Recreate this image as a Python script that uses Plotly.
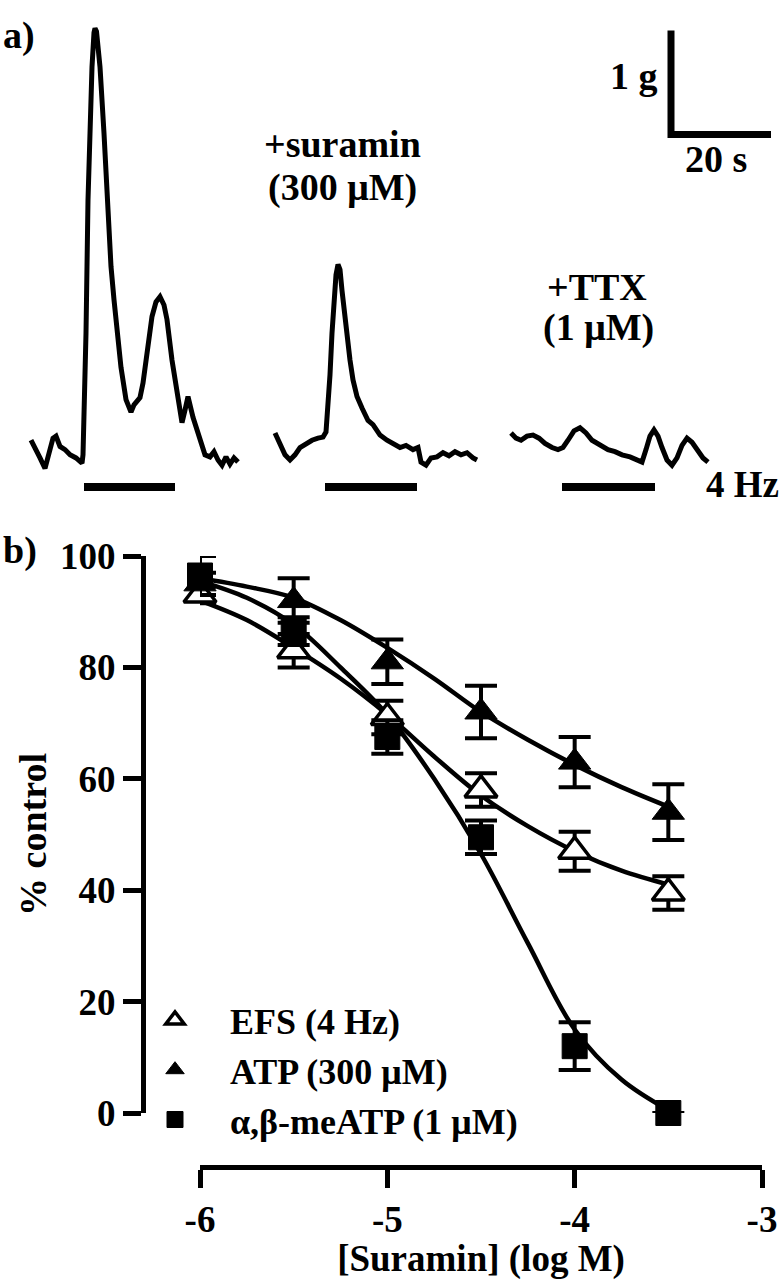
import plotly.graph_objects as go

W, H = 781, 1280
FONT = "Liberation Serif"
BLACK = "#000000"

# ---------------- panel a : isometric tension recordings ----------------
# time (s) and tension relative to baseline (g)
rec_control_t = [0.0, 0.8, 1.8, 2.8, 3.6, 4.4, 5.0, 5.8, 6.8, 7.8, 9.0, 10.2, 10.4, 10.7, 11.0,
                 11.4, 11.8, 12.2, 12.6, 12.8, 13.1, 13.4, 13.8, 14.6, 15.2, 16.0, 16.6, 17.2,
                 18.0, 19.0, 19.6, 20.0, 20.6, 21.2, 21.8, 22.4, 23.2, 24.2, 25.0, 25.8, 26.6,
                 27.2, 28.2, 29.2, 30.2, 30.8, 31.4, 32.4, 33.8, 34.8, 35.8, 36.6, 37.4, 38.2,
                 39.0, 39.8, 40.6, 41.4]
rec_control_g = [0.19, 0.12, 0.02, -0.08, 0.05, 0.21, 0.23, 0.13, 0.10, 0.05, 0.02, -0.03, 0.05,
                 0.58, 1.22, 2.50, 3.27, 3.78, 4.11, 4.15, 4.12, 3.94, 3.78, 3.14, 2.50, 1.86,
                 1.54, 1.22, 0.89, 0.58, 0.50, 0.46, 0.53, 0.57, 0.60, 0.74, 1.06, 1.38, 1.52,
                 1.57, 1.49, 1.35, 0.96, 0.64, 0.36, 0.48, 0.61, 0.41, 0.19, 0.05, 0.03, 0.08,
                 0.00, -0.05, 0.03, -0.04, 0.02, -0.02]

rec_suramin_t = [48.8, 49.8, 50.8, 51.8, 52.8, 53.8, 55.0, 56.2, 57.4, 58.4, 59.0, 59.4, 59.8,
                 60.2, 60.6, 61.0, 61.4, 61.8, 62.2, 62.8, 63.2, 63.8, 64.4, 65.2, 66.2, 67.4,
                 68.4, 69.8, 71.2, 72.4, 73.8, 75.0, 76.4, 77.4, 78.0, 79.0, 80.0, 81.2, 82.4,
                 83.6, 84.8, 86.0, 87.2, 88.4, 89.2]
rec_suramin_g = [0.26, 0.14, 0.05, 0.00, 0.05, 0.12, 0.16, 0.19, 0.21, 0.22, 0.27, 0.48, 0.82,
                 1.22, 1.54, 1.78, 1.88, 1.83, 1.63, 1.35, 1.22, 0.96, 0.77, 0.61, 0.50, 0.38,
                 0.34, 0.24, 0.19, 0.16, 0.12, 0.14, 0.10, 0.12, -0.02, -0.05, 0.02, 0.03, 0.07,
                 0.04, 0.08, 0.05, 0.07, 0.02, 0.00]

rec_ttx_t = [96.0, 97.0, 98.0, 99.2, 100.4, 101.6, 102.8, 104.2, 105.4, 106.4, 107.4, 108.6,
             109.8, 111.0, 112.2, 113.8, 115.4, 116.8, 118.2, 119.8, 121.2, 122.2, 123.0, 123.8,
             124.6, 125.4, 126.2, 127.2, 128.2, 129.2, 130.2, 131.2, 132.2, 133.2, 134.4, 135.4]
rec_ttx_g = [0.26, 0.21, 0.19, 0.23, 0.24, 0.21, 0.16, 0.12, 0.10, 0.12, 0.19, 0.28, 0.31, 0.26,
             0.19, 0.14, 0.10, 0.08, 0.05, 0.03, 0.00, -0.02, 0.10, 0.23, 0.29, 0.23, 0.12, 0.00,
             -0.05, 0.02, 0.14, 0.21, 0.17, 0.10, 0.02, -0.02]

stim_on_s = [10.6, 58.8, 106.2]
stim_off_s = [28.8, 77.2, 124.8]
stim_level_g = -0.26

scalebar_t0, scalebar_g0 = 128.0, 3.13
scalebar_len_s, scalebar_len_g = 20, 1

# ---------------- panel b : suramin concentration-response ----------------
log_suramin = [-6, -5.5, -5, -4.5, -4, -3.5]
efs_mean = [93, 83, 71, 58, 47, 39.5]
efs_sem = [1.5, 3, 3, 3, 3.5, 3]
atp_mean = [95, 92, 81, 72, 63, 54]
atp_sem = [2, 4, 4, 4.7, 4.5, 5]
meatp_mean = [96.5, 86.5, 67.5, 49.5, 12, 0]
meatp_sem = [3.5, 2.5, 3, 3, 4.3, 0]

curve_log = [-6, -5.75, -5.5, -5.25, -5, -4.75, -4.5, -4.25, -4, -3.75, -3.5]
efs_curve = [92, 88.5, 83.5, 78, 71.5, 64, 57, 51.5, 47, 43.5, 41]
atp_curve = [96, 94.5, 92.5, 88.5, 83.5, 78, 72, 67, 62.5, 58.5, 55]
meatp_curve = [95.5, 92.5, 87.7, 80, 71.5, 60, 46.5, 30.5, 15, 6, 0.5]

x_tickvals = [-6, -5, -4, -3]
x_ticktext = ["-6", "-5", "-4", "-3"]
y_tickvals = [0, 20, 40, 60, 80, 100]


def fx(p):
    return p / W


def fy(p):
    return 1 - p / H


fig = go.Figure()

# ---- panel a traces ----
for t, g, nm in [(rec_control_t, rec_control_g, "control"),
                 (rec_suramin_t, rec_suramin_g, "+suramin"),
                 (rec_ttx_t, rec_ttx_g, "+TTX")]:
    fig.add_trace(go.Scatter(x=t, y=g, mode="lines", name=nm, showlegend=False,
                             line=dict(color=BLACK, width=5), xaxis="x2", yaxis="y2",
                             hoverinfo="skip"))

bar_x, bar_y = [], []
for a, b in zip(stim_on_s, stim_off_s):
    bar_x += [a, b, None]
    bar_y += [stim_level_g, stim_level_g, None]
fig.add_trace(go.Scatter(x=bar_x, y=bar_y, mode="lines", showlegend=False, name="4 Hz",
                         line=dict(color=BLACK, width=8), xaxis="x2", yaxis="y2",
                         hoverinfo="skip"))

fig.add_trace(go.Scatter(
    x=[scalebar_t0, scalebar_t0, scalebar_t0 + scalebar_len_s],
    y=[scalebar_g0 + scalebar_len_g, scalebar_g0, scalebar_g0],
    mode="lines", showlegend=False, name="scale",
    line=dict(color=BLACK, width=7), xaxis="x2", yaxis="y2", hoverinfo="skip"))

# ---- panel b curves ----
for yc in [efs_curve, atp_curve, meatp_curve]:
    fig.add_trace(go.Scatter(x=curve_log, y=yc, mode="lines", showlegend=False,
                             line=dict(color=BLACK, width=4.5, shape="spline", smoothing=1),
                             hoverinfo="skip"))

err_style = dict(type="data", visible=True, color=BLACK, thickness=4, width=16)

fig.add_trace(go.Scatter(
    x=log_suramin, y=efs_mean, mode="markers", name="EFS (4 Hz)", cliponaxis=False,
    marker=dict(symbol="triangle-up", size=28, color="white", line=dict(color=BLACK, width=3.5)),
    error_y=dict(array=efs_sem, **err_style)))
fig.add_trace(go.Scatter(
    x=log_suramin, y=atp_mean, mode="markers", name="ATP (300 μM)", cliponaxis=False,
    marker=dict(symbol="triangle-up", size=28, color=BLACK, line=dict(color=BLACK, width=1)),
    error_y=dict(array=atp_sem, **err_style)))
fig.add_trace(go.Scatter(
    x=log_suramin, y=meatp_mean, mode="markers", name="α,β-meATP (1 μM)", cliponaxis=False,
    marker=dict(symbol="square", size=25, color=BLACK, line=dict(color=BLACK, width=1)),
    error_y=dict(array=meatp_sem, **err_style)))

bold = dict(family=FONT, color=BLACK, weight="bold")

axis_common = dict(showline=True, linewidth=5, linecolor=BLACK, ticks="outside",
                   ticklen=18, tickwidth=5, tickcolor=BLACK, showgrid=False,
                   zeroline=False, tickfont=dict(size=37, **bold), fixedrange=True,
                   automargin=False)

annotations = []


def txt(text, x, y, xanchor="center", size=38):
    annotations.append(dict(text=text, x=fx(x), y=fy(y), xref="paper", yref="paper",
                            xanchor=xanchor, yanchor="middle", showarrow=False,
                            font=dict(size=size, **bold)))


txt("a)", 1, 36, "left")
txt("b)", 1, 550, "left")
txt("+suramin", 342, 144)
txt("(300 μM)", 342, 187)
txt("+TTX", 597, 287)
txt("(1 μM)", 598, 327)
txt("1 g", 634, 76)
txt("20 s", 716, 159)
txt("4 Hz", 781, 484, "right", 37)

fig.update_layout(
    template="none",
    width=W, height=H, margin=dict(l=0, r=0, t=0, b=0, pad=0, autoexpand=False),
    paper_bgcolor="white", plot_bgcolor="white",
    font=dict(size=38, **bold),
    showlegend=True,
    legend=dict(x=fx(120), xanchor="left", y=fy(1070), yanchor="middle",
                font=dict(size=36, **bold), itemwidth=100, bgcolor="rgba(0,0,0,0)",
                borderwidth=0, tracegroupgap=0, traceorder="normal"),
    xaxis=dict(domain=[fx(200), fx(762)], range=[-6, -3], anchor="free", position=fy(1167),
               tickvals=x_tickvals, ticktext=x_ticktext,
               title=dict(text="[Suramin] (log M)", font=dict(size=37, **bold), standoff=13),
               **axis_common),
    yaxis=dict(domain=[fy(1113), fy(556)], range=[0, 100], anchor="free", position=fx(143),
               tickvals=y_tickvals,
               title=dict(text="% control", font=dict(size=38, **bold), standoff=0),
               **axis_common),
    xaxis2=dict(domain=[0, 1], range=[-6.2, 150], visible=False, anchor="y2", fixedrange=True),
    yaxis2=dict(domain=[fy(500), 1], range=[-0.3846, 4.4231], visible=False, anchor="x2",
                fixedrange=True),
    annotations=annotations,
)

fig.write_html("out.html", config={"displayModeBar": False},
               post_script="document.body.style.margin='0';document.body.style.padding='0';")
